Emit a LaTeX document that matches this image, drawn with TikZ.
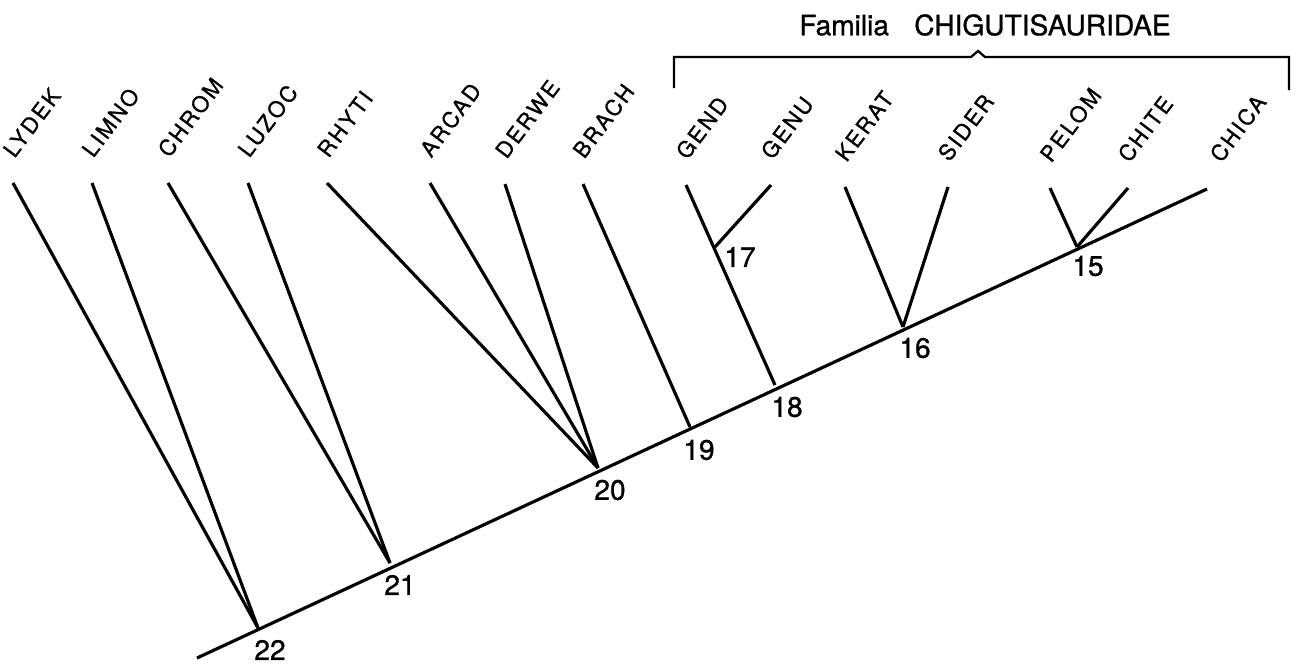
\documentclass[tikz,border=0pt]{standalone}
\usepackage{fontspec}
\setmainfont{TeX Gyre Heros}[FakeBold=1]
\usepackage{tikz}
\usetikzlibrary{calc}

\begin{document}
\begin{tikzpicture}[x=0.02cm,y=-0.02cm,line width=1.8pt,
    taxon/.style={rotate=53,anchor=south west,inner sep=0pt,
      font=\fontsize{12.5}{12.5}\selectfont\addfontfeature{LetterSpace=10}},
    num/.style={anchor=center,inner sep=0pt,font=\fontsize{16}{16}\selectfont}]
      \useasboundingbox (0,0) rectangle (1298,667);
      % branch points along the main stem
      \coordinate(base) at (197,658);
      \coordinate(n22) at (258,628);
      \coordinate(n21) at (390,563);
      \coordinate(n20) at (598,468);
      \coordinate(n19) at (690,427);
      \coordinate(n18) at (775,385);
      \coordinate(n16) at (903,327);
      \coordinate(n15) at (1077,247);
      \coordinate(n17) at (715,247);
      % leaf tips
      \coordinate(LYDEK) at (13,183);
      \coordinate(LIMNO) at (92,183);
      \coordinate(CHROM) at (168,183);
      \coordinate(LUZOC) at (248,183);
      \coordinate(RHYTI) at (327,183);
      \coordinate(ARCAD) at (430,183);
      \coordinate(DERWE) at (505,184);
      \coordinate(BRACH) at (583,184);
      \coordinate(GEND) at (686,185);
      \coordinate(GENU) at (771,185);
      \coordinate(KERAT) at (845,187);
      \coordinate(SIDER) at (948,187);
      \coordinate(PELOM) at (1050,188);
      \coordinate(CHITE) at (1128,188);
      \coordinate(CHICA) at (1207,189);
      % stem and branches
      \draw(base)--(CHICA);
      \draw(n22)--(LYDEK);
      \draw(n22)--(LIMNO);
      \draw(n21)--(CHROM);
      \draw(n21)--(LUZOC);
      \draw(n20)--(RHYTI);
      \draw(n20)--(ARCAD);
      \draw(n20)--(DERWE);
      \draw(n19)--(BRACH);
      \draw(n18)--(GEND);
      \draw(n17)--(GENU);
      \draw(n16)--(KERAT);
      \draw(n16)--(SIDER);
      \draw(n15)--(PELOM);
      \draw(n15)--(CHITE);
      % taxon names
      \foreach \t in {LYDEK,LIMNO,CHROM,LUZOC,RHYTI,ARCAD,DERWE,BRACH,GEND,GENU,KERAT,SIDER,PELOM,CHITE}
        \node[taxon](t\t) at ($(\t)+(2,-22)$) {\t};
      \node[taxon](tCHICA) at ($(CHICA)+(15,-23)$) {CHICA};
      % node numbers
      \draw(n22)node[num,shift={(12,22)}](l22){22};
      \draw(n21)node[num,shift={(10,22)}](l21){21};
      \draw(n20)node[num,shift={(12,22)}](l20){20};
      \draw(n19)node[num,shift={(9,23)}](l19){19};
      \draw(n18)node[num,shift={(12,22)}](l18){18};
      \draw(n16)node[num,shift={(12,21)}](l16){16};
      \draw(n15)node[num,shift={(11,19)}](l15){15};
      \draw(n17)node[num,shift={(25,10)}](l17){17};
      % family bracket
      \draw[line width=1.3pt](674,88)--(674,57)--(971,57)--(978,51)--(985,57)--(1289,57)--(1289,90);
      \node[font=\fontsize{16}{16}\selectfont](fam) at (985,25) {Familia\hspace{0.9em}CHIGUTISAURIDAE};
    \end{tikzpicture}
\end{document}
